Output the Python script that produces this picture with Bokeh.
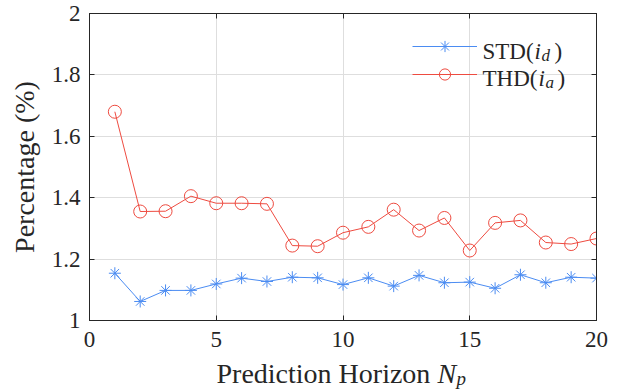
from bokeh.plotting import figure
from bokeh.layouts import column
from bokeh.models import (Range1d, LinearAxis, FixedTicker, Legend, LegendItem, Label)
from bokeh.embed import file_html
from bokeh.resources import INLINE

# ---- data ----
Np = list(range(1, 21))
std_id = [1.154, 1.062, 1.098, 1.098, 1.119, 1.138, 1.127, 1.141, 1.139, 1.117,
          1.139, 1.112, 1.147, 1.123, 1.125, 1.105, 1.149, 1.123, 1.141, 1.138]
thd_ia = [1.680, 1.355, 1.356, 1.405, 1.382, 1.382, 1.380, 1.244, 1.242, 1.286,
          1.305, 1.361, 1.293, 1.334, 1.228, 1.318, 1.326, 1.254, 1.249, 1.267]
x_ticks = [0, 5, 10, 15, 20]
y_ticks = [1, 1.2, 1.4, 1.6, 1.8, 2]
y_tick_labels = {1: "1", 1.2: "1.2", 1.4: "1.4", 1.6: "1.6", 1.8: "1.8", 2: "2"}

FONT = "Liberation Serif"
TXT = "#262626"
BLUE = "#4b8cf2"
RED = "#ee4b40"

p = figure(width=621, height=358, output_backend="svg", toolbar_location=None,
           x_range=Range1d(0, 20), y_range=Range1d(1, 2),
           min_border_left=89, min_border_right=25, min_border_top=13, min_border_bottom=38)
p.background_fill_color = "white"
p.border_fill_color = "white"
p.outline_line_color = TXT
p.outline_line_width = 1

# grids
p.xgrid.ticker = FixedTicker(ticks=x_ticks)
p.ygrid.ticker = FixedTicker(ticks=y_ticks)
for g in (p.xgrid, p.ygrid):
    g.grid_line_color = "#dedede"
    g.grid_line_width = 1

def style_axis(ax, ticks, show_labels):
    ax.ticker = FixedTicker(ticks=ticks)
    ax.axis_line_color = TXT
    ax.major_tick_line_color = TXT
    ax.major_tick_in = 5
    ax.major_tick_out = 0
    ax.minor_tick_line_color = None
    ax.major_label_text_font = FONT
    ax.major_label_text_color = TXT
    if show_labels:
        ax.major_label_text_font_size = "23px"
    else:
        ax.major_label_text_font_size = "0px"
        ax.major_label_overrides = {t: "" for t in ticks}
        ax.major_label_standoff = 0

style_axis(p.xaxis[0], x_ticks, True)
style_axis(p.yaxis[0], y_ticks, True)
p.xaxis[0].major_label_standoff = 11
p.yaxis[0].major_label_standoff = 9
p.yaxis[0].major_label_overrides = y_tick_labels

p.yaxis[0].axis_label = "Percentage (%)"
p.yaxis[0].axis_label_text_font = FONT
p.yaxis[0].axis_label_text_font_style = "normal"
p.yaxis[0].axis_label_text_font_size = "28px"
p.yaxis[0].axis_label_text_color = TXT
p.yaxis[0].axis_label_standoff = 9

top_ax = LinearAxis()
right_ax = LinearAxis()
style_axis(top_ax, x_ticks, False)
style_axis(right_ax, y_ticks, False)
p.add_layout(top_ax, "above")
p.add_layout(right_ax, "right")

# series
r_std_l = p.line(Np, std_id, line_color=BLUE, line_width=1)
r_std_m = p.scatter(Np, std_id, marker="asterisk", size=12, line_color=BLUE, line_width=1)
r_thd_l = p.line(Np, thd_ia, line_color=RED, line_width=1)
r_thd_m = p.scatter(Np, thd_ia, marker="circle", size=13, line_color=RED,
                    fill_color=None, line_width=1)

legend = Legend(items=[LegendItem(label="", renderers=[r_std_l, r_std_m]),
                       LegendItem(label="", renderers=[r_thd_l, r_thd_m])],
                location=(323, 232), orientation="vertical",
                glyph_width=65, glyph_height=28, label_height=28, label_width=80,
                label_text_font_size="2px", spacing=0, padding=0, margin=0,
                border_line_color=None, background_fill_alpha=0)
p.add_layout(legend)

def lab(fig, text, x, y, size, style="normal", units="screen"):
    fig.add_layout(Label(x=x, y=y, x_units=units, y_units=units, text=text,
                         text_font=FONT, text_font_size=size, text_font_style=style,
                         text_color=TXT, text_align="left", text_baseline="alphabetic"))

# legend texts (frame-relative pixels)
lab(p, "STD(", 393, 269, "23px")
lab(p, "i", 445, 269, "23px", "italic")
lab(p, "d", 452, 265, "17px", "italic")
lab(p, ")", 465, 269, "23px")
lab(p, "THD(", 393, 242, "23px")
lab(p, "i", 449, 242, "23px", "italic")
lab(p, "a", 456, 238, "17px", "italic")
lab(p, ")", 468, 242, "23px")

# x axis label strip below the plot
p2 = figure(width=621, height=34, output_backend="svg", toolbar_location=None,
            x_range=Range1d(89, 596), y_range=Range1d(34, 0),
            x_axis_type=None, y_axis_type=None,
            min_border_left=89, min_border_right=25, min_border_top=0, min_border_bottom=0)
p2.grid.visible = False
p2.outline_line_color = None
p2.background_fill_color = "white"
p2.border_fill_color = "white"
lab(p2, "Prediction Horizon", 216, 15, "28px", units="data")
lab(p2, "N", 437, 15, "28px", "italic", units="data")
lab(p2, "p", 456, 20, "19px", "italic", units="data")

layout = column(p, p2, spacing=0)
open("out.html", "w").write(file_html(layout, INLINE))
